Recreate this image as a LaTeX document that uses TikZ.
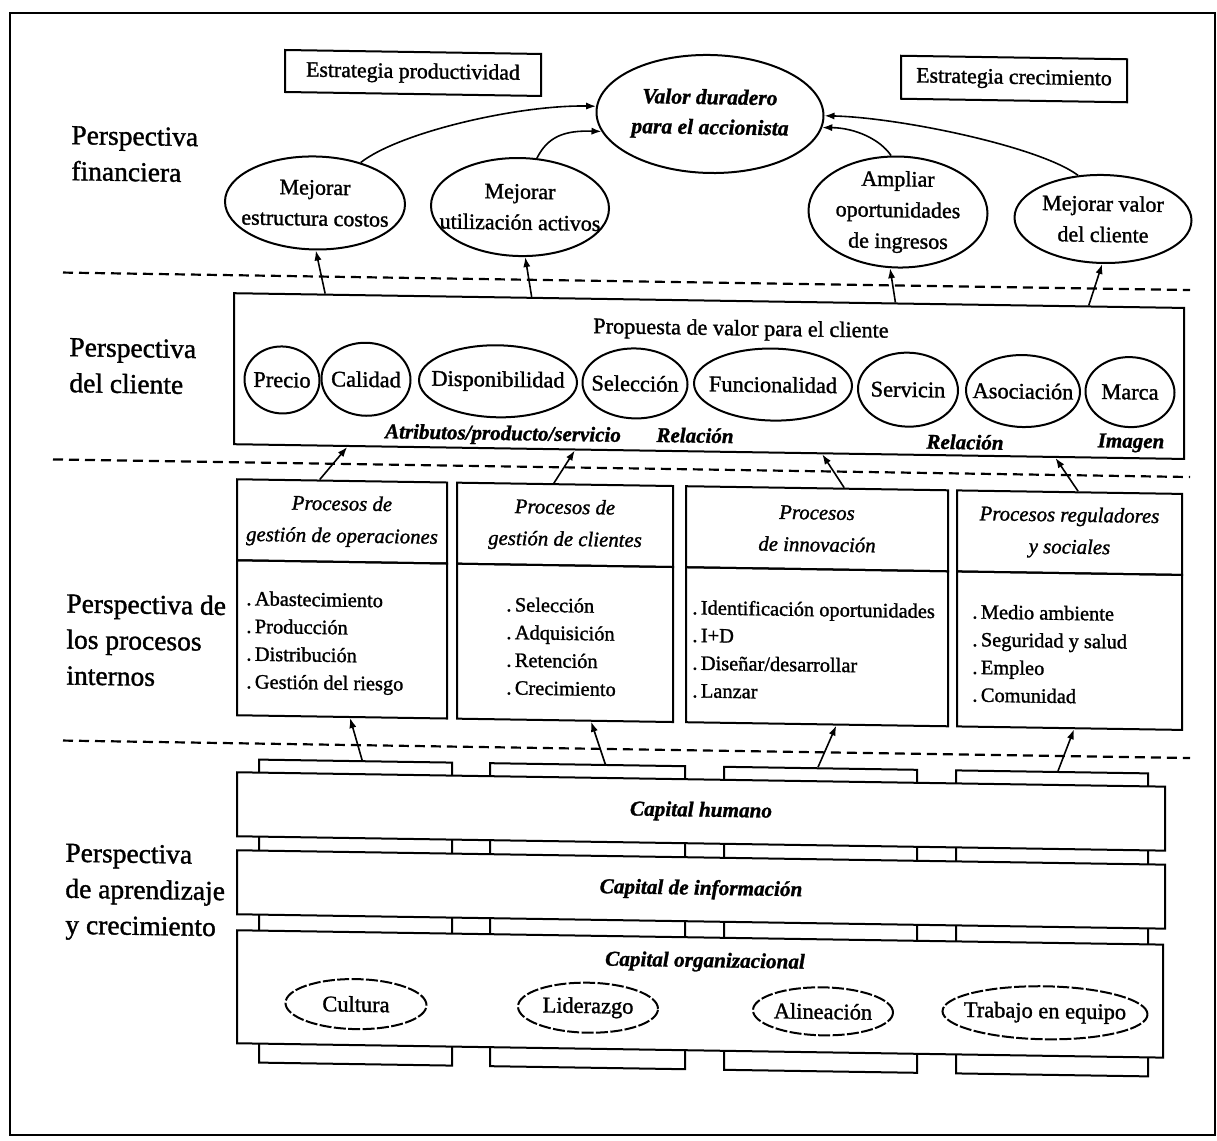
\documentclass[tikz,border=0pt]{standalone}
\usepackage{fontspec}
\setmainfont{Liberation Serif}[FakeBold=1.3]
\usetikzlibrary{shapes.geometric,arrows.meta,calc}

\tikzset{
  sz/.style 2 args={minimum width=#1*0.5pt, minimum height=#2*0.5pt},
  oval/.style={draw, ellipse, line width=1pt, inner sep=0pt},
  dashoval/.style={oval, dash pattern=on 6pt off 1.2pt},
  box/.style={draw, rectangle, line width=1pt, inner sep=0pt, align=center},
  txt/.style={inner sep=0pt, align=center},
  arr/.style={-{Latex[length=5pt,width=3.6pt]}, line width=0.8pt},
  sep/.style={line width=1.1pt, dash pattern=on 5pt off 3pt},
  perspective/.style={inner sep=0pt, align=left, anchor=west, font=\fontsize{13.75}{18}\selectfont},
  fintext/.style={txt, font=\fontsize{11}{15.5}\selectfont},
  stratbox/.style={box, font=\fontsize{10.9}{13}\selectfont},
  attrtext/.style={txt, font=\fontsize{11.2}{13}\selectfont},
  tagtext/.style={txt, font=\fontsize{10.5}{13}\selectfont\bfseries\itshape},
  proctitle/.style={box, font=\fontsize{10.4}{16}\selectfont\itshape},
  procbody/.style={box},
  items/.style={inner sep=0pt, align=left, anchor=west, font=\fontsize{10.2}{13.85}\selectfont},
  tab/.style={draw, rectangle, line width=1pt, inner sep=0pt},
  capbar/.style={box, fill=white, font=\fontsize{10.6}{13}\selectfont\bfseries\itshape},
}

\begin{document}
\begin{tikzpicture}[x=0.5pt, y=-0.5pt]
\useasboundingbox (0,0) rectangle (1217,1141);
\fill[white] (0,0) rectangle (1217,1141);
\draw[line width=1pt] (10,13) rectangle (1215,1135);

% the whole map is set with a slight slant
\begin{scope}[cm={1,-0.0155,0,1,(0pt,4.71pt)}, transform shape]

% ---------- row labels ----------
\node[perspective] (lf) at (71,161.5) {Perspectiva\\financiera};
\node[perspective] (lc) at (69,373.5) {Perspectiva\\del cliente};
\node[perspective] (lp) at (66,647.5) {Perspectiva de\\los procesos\\internos};
\node[perspective] (la) at (65,900) {Perspectiva\\de aprendizaje\\y crecimiento};

% ---------- financial perspective ----------
\node[stratbox, sz={256}{42}] (prod) at (413,76) {Estrategia productividad};
\node[stratbox, sz={226}{43}] (crec) at (1014,72.7) {Estrategia crecimiento};

\node[oval, sz={227}{118}] (valor) at (710,112.4) {};
\node[txt, font=\fontsize{10.8}{15}\selectfont\bfseries\itshape] (valor-t) at (valor) {Valor duradero\\para el accionista};

\node[oval, sz={180}{93}] (costos) at (315,207.5) {};
\node[fintext] (costos-t) at (costos) {Mejorar\\estructura costos};
\node[oval, sz={178}{98}] (activos) at (520,208.4) {};
\node[fintext] (activos-t) at (activos) {Mejorar\\utilización activos};
\node[oval, sz={179}{111}] (ampliar) at (898,207.5) {};
\node[fintext] (ampliar-t) at (ampliar) {Ampliar\\oportunidades\\de ingresos};
\node[oval, sz={177}{88}] (mval) at (1103,211.3) {};
\node[fintext] (mval-t) at (mval) {Mejorar valor\\del cliente};

\draw[sep] (63,281) -- (1190,281);

% ---------- customer perspective ----------
\node[box, sz={950}{151}] (prop) at (709,374.5) {};
\node[txt, font=\fontsize{11.1}{13}\selectfont] (prop-t) at (741,328) {Propuesta de valor para el cliente};

\node[oval, sz={75}{67}] (precio) at (282,385) {};
\node[attrtext] (precio-t) at (precio) {Precio};
\node[oval, sz={89}{73}] (calidad) at (366,383) {};
\node[attrtext] (calidad-t) at (calidad) {Calidad};
\node[oval, sz={158}{72}] (disp) at (498,383) {};
\node[attrtext] (disp-t) at (disp) {Disponibilidad};
\node[oval, sz={105}{70}] (selec) at (635,383) {};
\node[attrtext] (selec-t) at (selec) {Selección};
\node[oval, sz={158}{72}] (func) at (773,382) {};
\node[attrtext] (func-t) at (func) {Funcionalidad};
\node[oval, sz={100}{74}] (serv) at (908,385) {};
\node[attrtext] (serv-t) at (serv) {Servicin};
\node[oval, sz={114}{72}] (asoc) at (1023,384.6) {};
\node[attrtext] (asoc-t) at (asoc) {Asociación};
\node[oval, sz={89}{70}] (marca) at (1130,384) {};
\node[attrtext] (marca-t) at (marca) {Marca};

\node[tagtext] (atrib) at (503,436.6) {Atributos/producto/servicio};
\node[tagtext] (rel1) at (695,434) {Relación};
\node[tagtext] (rel2) at (965,436.5) {Relación};
\node[tagtext] (imagen) at (1131,435) {Imagen};

\draw[sep] (53,468) -- (1190,468);

% ---------- internal processes ----------
\node[proctitle, sz={210}{81}] (t1) at (342,525.5) {Procesos de\\gestión de operaciones};
\node[procbody, sz={210}{155}] (p1) at (342,643.5) {};
\node[proctitle, sz={216}{81}] (t2) at (565,525.5) {Procesos de\\gestión de clientes};
\node[procbody, sz={216}{155}] (p2) at (565,643.5) {};
\node[proctitle, sz={262}{81}] (t3) at (817,525.5) {Procesos\\de innovación};
\node[procbody, sz={262}{155}] (p3) at (817,643.5) {};
\node[proctitle, sz={225}{81}] (t4) at (1069.5,525.5) {Procesos reguladores\\y sociales};
\node[procbody, sz={225}{155}] (p4) at (1069.5,643.5) {};

\node[items] (i1) at (246,647.5) {.\,Abastecimiento\\.\,Producción\\.\,Distribución\\.\,Gestión del riesgo};
\node[items] (i2) at (506,647.5) {.\,Selección\\.\,Adquisición\\.\,Retención\\.\,Crecimiento};
\node[items] (i3) at (692,647.5) {.\,Identificación oportunidades\\.\,I+D\\.\,Diseñar/desarrollar\\.\,Lanzar};
\node[items] (i4) at (972,647.5) {.\,Medio ambiente\\.\,Seguridad y salud\\.\,Empleo\\.\,Comunidad};

\draw[sep] (63,749) -- (1190,749);

% ---------- learning and growth ----------
\node[tab, sz={193}{303}] (tab1) at (355.5,916.5) {};
\node[tab, sz={195}{303}] (tab2) at (587.5,916.5) {};
\node[tab, sz={193}{303}] (tab3) at (820.5,916.5) {};
\node[tab, sz={192}{303}] (tab4) at (1052,916.5) {};

\node[capbar, sz={928}{64}] (hum) at (701,810) {Capital humano};
\node[capbar, sz={928}{64}] (info) at (701,888) {Capital de información};
\node[capbar, sz={926}{113}] (org) at (700,992.5) {};
\node[txt, font=\fontsize{10.6}{13}\selectfont\bfseries\itshape] (org-t) at (705,960.5) {Capital organizacional};

\node[dashoval, sz={141}{50}] (cult) at (356,1008) {};
\node[attrtext] (cult-t) at (cult) {Cultura};
\node[dashoval, sz={140}{50}] (lider) at (588,1008) {};
\node[attrtext] (lider-t) at (lider) {Liderazgo};
\node[dashoval, sz={140}{48}] (alin) at (823,1008) {};
\node[attrtext] (alin-t) at (alin) {Alineación};
\node[dashoval, sz={205}{53}] (equipo) at (1045,1006) {};
\node[attrtext] (equipo-t) at (equipo) {Trabajo en equipo};

% ---------- cause and effect links ----------
\draw[arr] (costos.42) .. controls (400,135) and (520,106) .. (valor.177);
\draw[arr] (activos.71) .. controls (548,137) and (565,131) .. (valor.190);
\draw[arr] (ampliar.97) .. controls (880,135) and (855,124) .. (valor.354);
\draw[arr] (mval.120) .. controls (1040,140) and (900,113) .. (valor.0);

\draw[arr] ($(prop.north west)!0.0968!(prop.north east)$) -- (costos.271);
\draw[arr] ($(prop.north west)!0.3137!(prop.north east)$) -- (activos.276);
\draw[arr] ($(prop.north west)!0.6958!(prop.north east)$) -- (ampliar.262);
\draw[arr] ($(prop.north west)!0.8989!(prop.north east)$) -- (mval.269);

\draw[arr] ($(t1.north west)!0.395!(t1.north east)$) -- ($(prop.south west)!0.12!(prop.south east)$);
\draw[arr] ($(t2.north west)!0.449!(t2.north east)$) -- ($(prop.south west)!0.359!(prop.south east)$);
\draw[arr] ($(t3.north west)!0.603!(t3.north east)$) -- ($(prop.south west)!0.619!(prop.south east)$);
\draw[arr] ($(t4.north west)!0.538!(t4.north east)$) -- ($(prop.south west)!0.864!(prop.south east)$);

\draw[arr] ($(tab1.north west)!0.534!(tab1.north east)$) -- ($(p1.south west)!0.538!(p1.south east)$);
\draw[arr] ($(tab2.north west)!0.59!(tab2.north east)$) -- ($(p2.south west)!0.62!(p2.south east)$);
\draw[arr] ($(tab3.north west)!0.487!(tab3.north east)$) -- ($(p3.south west)!0.573!(p3.south east)$);
\draw[arr] ($(tab4.north west)!0.531!(tab4.north east)$) -- ($(p4.south west)!0.52!(p4.south east)$);

\end{scope}
\end{tikzpicture}
\end{document}
